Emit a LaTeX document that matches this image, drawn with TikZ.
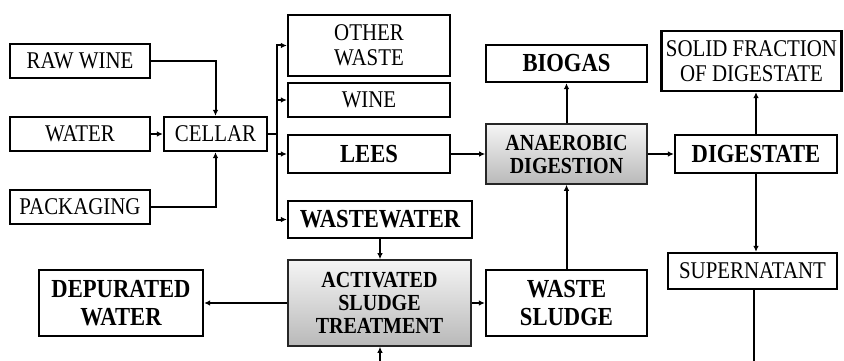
\documentclass[tikz,border=0pt]{standalone}
\usepackage{fontspec}
\setmainfont{Liberation Serif}[FakeStretch=0.87]
\usetikzlibrary{arrows.meta,shadows}
\tikzset{
  box/.style={draw, line width=2.2pt, fill=white, inner sep=0pt, align=center},
  reg/.style={box, font={\fontsize{24}{25}\selectfont}},
  bld/.style={box, font={\bfseries\fontsize{26}{28.5}\selectfont}},
  proc/.style={box, line width=1.6pt, draw=black!85, top color=gray!8, bottom color=gray!55,
     drop shadow={opacity=0.25, shadow xshift=1.2pt, shadow yshift=-1.2pt},
     font={\bfseries\fontsize{23}{23}\selectfont}},
  arr/.style={line width=2pt, -{Latex[length=6pt,width=5.5pt]}},
  ln/.style={line width=2pt}
}
\begin{document}
\begin{tikzpicture}[x=1pt,y=-1pt]
\useasboundingbox (0,0) rectangle (844,361);
% left inputs
\node[reg, minimum width=140pt, minimum height=34pt] (raw) at (80,61) {RAW WINE};
\node[reg, minimum width=140pt, minimum height=34pt] (water) at (80,134) {WATER};
\node[reg, minimum width=140pt, minimum height=34pt] (pack) at (80,207) {PACKAGING};
\node[reg, minimum width=103pt, minimum height=34pt] (cellar) at (215.5,134) {CELLAR};
% outputs of cellar
\node[reg, minimum width=162pt, minimum height=61pt] (other) at (369,45.5) {OTHER\\WASTE};
\node[reg, minimum width=162pt, minimum height=34pt] (wine) at (369,100) {WINE};
\node[bld, minimum width=162pt, minimum height=38pt] (lees) at (369,154) {LEES};
\node[bld, minimum width=184pt, minimum height=37pt] (ww) at (380,219.5) {WASTEWATER};
% digestion
\node[bld, minimum width=161pt, minimum height=37pt] (biogas) at (566.5,63.5) {BIOGAS};
\node[proc, minimum width=161pt, minimum height=60pt] (ad) at (566.5,154) {ANAEROBIC\\DIGESTION};
\node[reg, minimum width=180pt, minimum height=60pt] (solid) at (751.5,61) {SOLID FRACTION\\OF DIGESTATE};
\node[bld, minimum width=162pt, minimum height=38pt] (dig) at (756,154) {DIGESTATE};
\node[reg, minimum width=169pt, minimum height=36pt] (super) at (752.5,271) {SUPERNATANT};
% lower row
\node[bld, minimum width=161pt, minimum height=66pt] (sludge) at (566.5,303) {WASTE\\SLUDGE};
\node[proc, minimum width=183pt, minimum height=86pt] (ast) at (379.5,303) {ACTIVATED\\SLUDGE\\TREATMENT};
\node[bld, minimum width=164pt, minimum height=66pt] (dep) at (121,303) {DEPURATED\\WATER};
% coordinates
\coordinate (br) at (277,134);
\coordinate (bot1) at (380,361);
\coordinate (bot2) at (754,361);
% connectors
\draw[arr] (raw.east) -| (cellar.north);
\draw[arr] (pack.east) -| (cellar.south);
\draw[arr] (water.east) -- (cellar.west);
\draw[ln] (cellar.east) -- (br);
\draw[arr] (br) |- (other.west);
\draw[arr] (br) |- (wine.west);
\draw[arr] (br) |- (lees.west);
\draw[arr] (br) |- (ww.west);
\draw[arr] (lees.east) -- (ad.west);
\draw[arr] (ad.north) -- (biogas.south);
\draw[arr] (ad.east) -- (dig.west);
\draw[arr] (dig.north) -- (dig.north |- solid.south);
\draw[arr] (dig.south) -- (super.north -| dig.south);
\draw[ln] (super.south -| bot2) -- (bot2);
\draw[arr] (ww.south) -- (ww.south |- ast.north);
\draw[arr] (bot1) -- (bot1 |- ast.south);
\draw[arr] (ast.west) -- (dep.east);
\draw[arr] (ast.east) -- (sludge.west);
\draw[arr] (sludge.north) -- (ad.south);
\end{tikzpicture}
\end{document}
